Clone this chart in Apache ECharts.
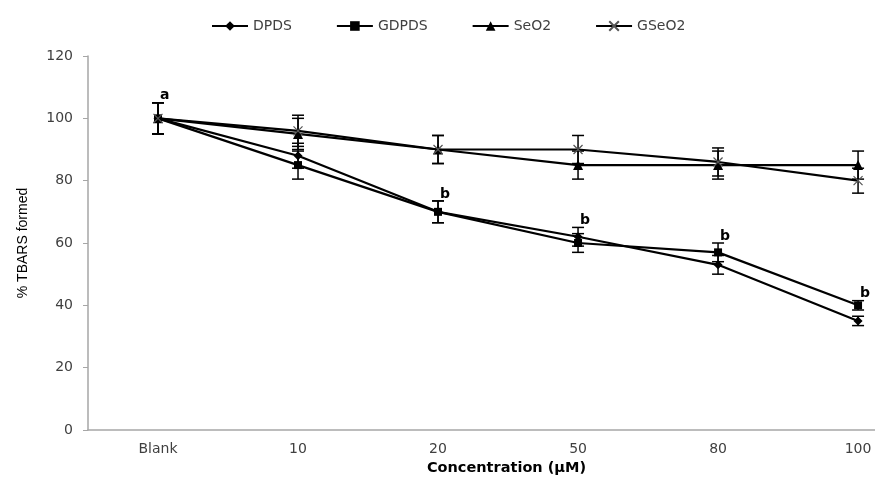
<!DOCTYPE html>
<html><head><meta charset="utf-8">
<script src="https://cdn.jsdelivr.net/npm/echarts@6/dist/echarts.min.js"></script>
<style>html,body{margin:0;padding:0;background:#fff}#c{width:875px;height:481px}</style>
</head><body><div id="c"></div>
<script>
var categories = ['Blank', '10', '20', '50', '80', '100'];
var seriesNames = ['DPDS', 'GDPDS', 'SeO2', 'GSeO2'];
var dpds  = [100, 88, 70, 62, 53, 35];
var gdpds = [100, 85, 70, 60, 57, 40];
var seo2  = [100, 95, 90, 85, 85, 85];
var gseo2 = [100, 96, 90, 90, 86, 80];
var dpdsErr  = [5, 4, 3.5, 3, 3, 1.5];
var gdpdsErr = [5, 4.5, 3.5, 3, 3, 1.5];
var seo2Err  = [5, 5, 4.5, 4.5, 4.5, 4.5];
var gseo2Err = [5, 5, 4.5, 4.5, 4.5, 4];
var sigLetters = ['a', '', 'b', 'b', 'b', 'b'];
var yTicks = [0, 20, 40, 60, 80, 100, 120];

var values = [dpds, gdpds, seo2, gseo2];
var errs = [dpdsErr, gdpdsErr, seo2Err, gseo2Err];
var symbols = ['diamond', 'rect', 'triangle', 'path://M0,0L10,10M10,0L0,10'];
var symSizes = [9, 8, 10, 9];
var catIdx = categories.map(function (c, i) { return i; });

var chart = echarts.init(document.getElementById('c'));
var series = [];
values.forEach(function (vals, s) {
  series.push({
    name: seriesNames[s], type: 'line',
    data: vals.map(function (v, i) { return [i, v]; }),
    symbol: symbols[s], symbolSize: symSizes[s],
    lineStyle: { color: '#000', width: 2.2 },
    itemStyle: s === 3 ? { color: 'rgba(0,0,0,0)', borderColor: '#555', borderWidth: 1.2 } : { color: '#000', borderWidth: 0 },
    z: 3, animation: false
  });
  series.push({
    type: 'custom', name: seriesNames[s] + '_err', silent: true, z: 2,
    data: vals.map(function (v, i) { return [i, v, errs[s][i]]; }),
    renderItem: function (params, api) {
      var i = api.value(0), v = api.value(1), e = api.value(2);
      var top = api.coord([i, v + e]), bot = api.coord([i, v - e]);
      var w = 6, st = { stroke: '#000', lineWidth: 1.5 };
      return { type: 'group', children: [
        { type: 'line', shape: { x1: top[0], y1: top[1], x2: bot[0], y2: bot[1] }, style: st },
        { type: 'line', shape: { x1: top[0] - w, y1: top[1], x2: top[0] + w, y2: top[1] }, style: st },
        { type: 'line', shape: { x1: bot[0] - w, y1: bot[1], x2: bot[0] + w, y2: bot[1] }, style: st }
      ]};
    },
    animation: false
  });
});
series.push({
  type: 'custom', name: 'sig', silent: true, z: 5,
  data: sigLetters.map(function (t, i) {
    return [i, Math.max(dpds[i] + dpdsErr[i], gdpds[i] + gdpdsErr[i])];
  }),
  renderItem: function (params, api) {
    var p = api.coord([api.value(0), api.value(1)]);
    return { type: 'text', x: p[0] + 2, y: p[1],
      style: { text: sigLetters[params.dataIndex], fill: '#000', font: 'bold 14px "DejaVu Sans"', align: 'left', verticalAlign: 'bottom' } };
  },
  animation: false
});

chart.setOption({
  animation: false,
  legend: {
    data: seriesNames, top: 14, left: 206, itemWidth: 36, itemHeight: 12, itemGap: 44,
    textStyle: { fontFamily: 'DejaVu Sans', fontSize: 14, color: '#404040' }
  },
  grid: { left: 88, top: 56, bottom: 51, right: 0, outerBoundsMode: 'none', containLabel: false },
  xAxis: {
    type: 'value', min: -0.5, max: 5.121,
    axisLine: { show: true, onZero: false, lineStyle: { color: '#a6a6a6', width: 1.5 } },
    axisTick: { show: false },
    splitLine: { show: false },
    axisLabel: { fontFamily: 'DejaVu Sans', fontSize: 14, color: '#404040', margin: 12,
      customValues: catIdx,
      formatter: function (v) { return categories[Math.round(v)]; } },
    name: 'Concentration (µM)', nameLocation: 'middle', nameGap: 31,
    nameTextStyle: { fontFamily: 'DejaVu Sans', fontWeight: 'bold', fontSize: 14.5, color: '#000', padding: [0, 0, 0, 50] }
  },
  yAxis: {
    type: 'value', min: yTicks[0], max: yTicks[yTicks.length - 1], interval: yTicks[1] - yTicks[0],
    axisLine: { show: true, onZero: false, lineStyle: { color: '#a6a6a6', width: 1.5 } },
    axisTick: { show: true, length: 5, lineStyle: { color: '#a6a6a6' } },
    splitLine: { show: false },
    axisLabel: { fontFamily: 'DejaVu Sans', fontSize: 14, color: '#404040', margin: 15 },
    name: '% TBARS formed', nameLocation: 'middle', nameGap: 58, nameRotate: 90,
    nameTextStyle: { fontFamily: '"Liberation Sans Narrow", "Liberation Sans"', fontSize: 14, color: '#000' }
  },
  series: series
});
</script></body></html>
